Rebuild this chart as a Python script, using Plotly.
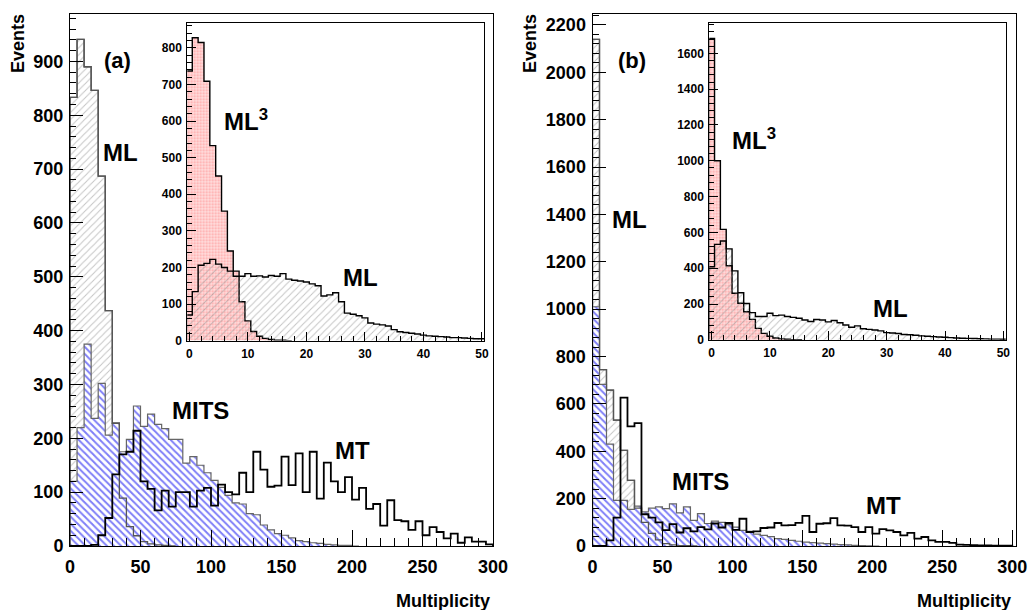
import plotly.graph_objects as go

W, H = 1032, 610

# ---------------- data (bin contents) ----------------
# main panels: 60 bins of width 5 on [0, 300]
main_bin_lo, main_bin_w = 0.0, 5.0
# inset panels: bins of width 1 centred on integers 0..50
inset_bin_lo, inset_bin_w = -0.5, 1.0

ML_a = [833, 941, 890, 846, 687, 437, 228, 89, 36, 19, 8, 4, 2, 1, 0]
MITS_a = [120, 220, 375, 237, 302, 206, 228, 175, 198, 260, 222, 245, 226, 218, 198,
          198, 154, 166, 150, 136, 122, 109, 94, 80, 78, 60, 58, 39, 30, 23,
          20, 15, 10, 8, 6, 5, 3, 2, 1, 1, 0]
MT_a = [0, 0, 0, 2, 20, 52, 133, 170, 175, 214, 120, 106, 66, 103, 73,
        100, 100, 73, 103, 108, 75, 114, 100, 96, 136, 100, 175, 142, 110, 112,
        166, 113, 172, 100, 175, 88, 155, 120, 100, 128, 86, 108, 69, 78, 38,
        85, 48, 46, 30, 46, 20, 35, 26, 14, 23, 6, 16, 8, 8, 3]

ML3_a_inset = [737, 828, 815, 709, 533, 450, 354, 245, 190, 106, 54, 25, 12, 6, 3, 1, 1, 0]
ML_a_inset = [70, 134, 206, 211, 222, 209, 200, 190, 176, 176, 183, 176, 177, 174, 178,
              176, 183, 168, 165, 163, 160, 155, 150, 122, 125, 131, 106, 75, 72, 68,
              62, 48, 45, 43, 40, 30, 24, 22, 20, 18, 15, 13, 12, 11, 10, 8, 8, 7, 6, 5, 5]

ML_b = [2139, 745, 658, 531, 404, 277, 160, 100, 53, 26, 10, 5, 2, 1, 0]
MITS_b = [1010, 682, 430, 193, 193, 155, 168, 144, 160, 165, 158, 178, 140, 165, 108,
          137, 95, 105, 100, 90, 80, 66, 62, 50, 45, 40, 31, 28, 24, 20,
          16, 14, 12, 10, 8, 6, 5, 3, 2, 1, 0]
MT_b = [0, 0, 24, 120, 626, 505, 519, 134, 120, 100, 67, 92, 57, 75, 62,
        80, 70, 95, 78, 97, 68, 115, 59, 62, 76, 78, 97, 87, 88, 98,
        127, 59, 94, 96, 118, 87, 86, 80, 59, 80, 52, 71, 66, 59, 45,
        55, 31, 38, 24, 17, 17, 13, 6, 5, 4, 3, 3, 2, 2, 1]

ML3_b_inset = [1684, 1000, 617, 414, 260, 204, 157, 114, 64, 36, 20, 10, 5, 3, 1, 0]
ML_b_inset = [408, 533, 552, 508, 385, 263, 203, 152, 130, 130, 148, 135, 138, 130, 125,
              120, 111, 102, 113, 111, 100, 108, 95, 83, 70, 78, 62, 58, 55, 50,
              40, 38, 35, 30, 28, 25, 22, 20, 18, 16, 14, 12, 10, 9, 8, 7, 6, 5, 4, 4, 3]

# axis ranges
main_a_x, main_a_y = [0, 300], [0, 988]
main_b_x, main_b_y = [0, 302.3], [0, 2246]
inset_a_x, inset_a_y = [-0.35, 50.4], [0, 869]
inset_b_x, inset_b_y = [-0.4, 50.4], [0, 1768]

FONT = "Liberation Sans, Arial, sans-serif"


def step(values, lo, w):
    edges = [lo + i * w for i in range(len(values) + 1)]
    xs = [edges[0]] + edges[:-1] + [edges[-1], edges[-1]]
    ys = [0] + list(values) + [values[-1], 0]
    return xs, ys


def hist(values, lo, w, xa, ya, line_color, line_width, pattern=None, fill=True):
    xs, ys = step(values, lo, w)
    kw = dict(x=xs, y=ys, mode="lines", line=dict(shape="hv", color=line_color, width=line_width),
              xaxis=xa, yaxis=ya, showlegend=False, hoverinfo="skip")
    if fill:
        kw["fill"] = "tozeroy"
        kw["fillcolor"] = pattern.get("bgcolor", "rgba(0,0,0,0)")
        kw["fillpattern"] = pattern
    return go.Scatter(**kw)


gray_pat = dict(shape="/", fgcolor="#8a8a8a", bgcolor="rgba(0,0,0,0)", size=5, solidity=0.2)
blue_pat = dict(shape="\\", fgcolor="#0000f0", bgcolor="white", size=5, solidity=0.4)
red_pat = dict(shape=".", fgcolor="#ff6b6b", bgcolor="#ffdede", size=3, solidity=0.4)

fig = go.Figure()
# ---- panel (a) main
fig.add_trace(hist(ML_a, main_bin_lo, main_bin_w, "x", "y", "#555555", 1.3, gray_pat))
fig.add_trace(hist(MITS_a, main_bin_lo, main_bin_w, "x", "y", "#666666", 1.2, blue_pat))
fig.add_trace(hist(ML_a, main_bin_lo, main_bin_w, "x", "y", "#555555", 1.3, fill=False))
fig.add_trace(hist(MT_a, main_bin_lo, main_bin_w, "x", "y", "black", 1.8, fill=False))
# ---- panel (b) main
fig.add_trace(hist(ML_b, main_bin_lo, main_bin_w, "x2", "y2", "#555555", 1.3, gray_pat))
fig.add_trace(hist(MITS_b, main_bin_lo, main_bin_w, "x2", "y2", "#666666", 1.2, blue_pat))
fig.add_trace(hist(ML_b, main_bin_lo, main_bin_w, "x2", "y2", "#555555", 1.3, fill=False))
fig.add_trace(hist(MT_b, main_bin_lo, main_bin_w, "x2", "y2", "black", 1.8, fill=False))
# ---- insets
fig.add_trace(hist(ML3_a_inset, inset_bin_lo, inset_bin_w, "x3", "y3", "black", 1.4, red_pat))
fig.add_trace(hist(ML_a_inset, inset_bin_lo, inset_bin_w, "x3", "y3", "black", 1.4, gray_pat))
fig.add_trace(hist(ML3_b_inset, inset_bin_lo, inset_bin_w, "x4", "y4", "black", 1.4, red_pat))
fig.add_trace(hist(ML_b_inset, inset_bin_lo, inset_bin_w, "x4", "y4", "black", 1.4, gray_pat))


def px_x(p):
    return p / W


def px_y(p):
    return 1 - p / H


def axis(domain, rng, dtick, mdtick, tlen, mlen, fsize, anchor, standoff):
    return dict(domain=domain, range=rng, anchor=anchor, showgrid=False, zeroline=False,
                automargin=False,
                showline=True, linecolor="black", linewidth=1, mirror=True,
                ticks="inside", ticklen=tlen, tickwidth=1, tickcolor="black",
                tick0=0, dtick=dtick,
                minor=dict(ticks="inside", dtick=mdtick, tick0=0, ticklen=mlen,
                           tickwidth=1, tickcolor="black", showgrid=False),
                tickfont=dict(family=FONT, size=fsize, color="black", weight="bold"),
                ticklabelstandoff=standoff, fixedrange=True)


ydom_main = [px_y(546), px_y(14)]
fig.update_layout(
    width=W, height=H, margin=dict(l=0, r=0, t=0, b=0, autoexpand=False),
    paper_bgcolor="white", plot_bgcolor="rgba(0,0,0,0)",
    xaxis=axis([px_x(70), px_x(493)], main_a_x, 50, 10, 16, 8, 18, "y", 4),
    yaxis=axis(ydom_main, main_a_y, 100, 20, 13, 6, 18, "x", 2),
    xaxis2=axis([px_x(592.5), px_x(1015.5)], main_b_x, 50, 10, 16, 8, 18, "y2", 4),
    yaxis2=axis(ydom_main, main_b_y, 200, 40, 13, 6, 18, "x2", 2),
    xaxis3=axis([px_x(187.3), px_x(484.3)], inset_a_x, 10, 2, 9, 5, 12, "y3", 2),
    yaxis3=axis([px_y(340.6), px_y(22.7)], inset_a_y, 100, 20, 9, 5, 12, "x3", 2),
    xaxis4=axis([px_x(709.3), px_x(1005.7)], inset_b_x, 10, 2, 9, 5, 12, "y4", 2),
    yaxis4=axis([px_y(339.8), px_y(23.3)], inset_b_y, 200, 40, 9, 5, 12, "x4", 2),
)


def label(text, x, y, size, xanchor="center", yanchor="middle", angle=0):
    fig.add_annotation(text=text, x=px_x(x), y=px_y(y), xref="paper", yref="paper",
                       showarrow=False, xanchor=xanchor, yanchor=yanchor, textangle=angle,
                       font=dict(family=FONT, size=size, color="black", weight="bold"))


# panel (a)
label("Events", 18, 44, 18, angle=-90)
label("(a)", 117, 61, 22)
label("ML", 120, 152, 24)
label("MITS", 200, 411, 24)
label("MT", 352, 450, 24)
label("Multiplicity", 492, 601, 18, xanchor="right")
label("ML<sup>3</sup>", 222, 120, 24, xanchor="left")
label("ML", 360, 277, 24)
# panel (b)
label("Events", 530, 44, 18, angle=-90)
label("(b)", 632, 61, 22)
label("ML", 629, 219, 24)
label("MITS", 700, 481, 24)
label("MT", 883, 505, 24)
label("Multiplicity", 1013, 601, 18, xanchor="right")
label("ML<sup>3</sup>", 730, 139, 24, xanchor="left")
label("ML", 890, 308, 24)

fig.write_html(
    "out.html",
    config={"displayModeBar": False, "staticPlot": True},
    post_script="document.body.style.margin='0';document.body.style.padding='0';"
                "document.documentElement.style.margin='0';document.body.style.overflow='hidden';",
)
